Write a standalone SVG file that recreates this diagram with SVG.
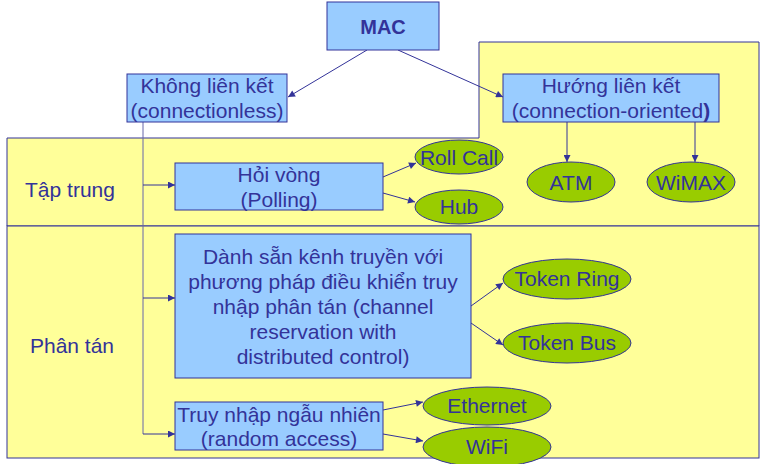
<svg xmlns="http://www.w3.org/2000/svg" width="762" height="464" viewBox="0 0 762 464">
<style>
.reg{fill:#FFFF99;stroke:#333399;stroke-width:1}
.box{fill:#99CCFF;stroke:#333399;stroke-width:1}
.ell{fill:#99CC00;stroke:#333399;stroke-width:1}
text{font-family:"Liberation Sans",Arial,sans-serif;font-size:21px;fill:#333399;text-anchor:middle}
.lbl{text-anchor:middle}
.con line,.con polyline{stroke:#333399;stroke-width:1;fill:none}
.con .trunk{stroke:#6666AA}
</style>
<defs>
<marker id="ah" viewBox="0 0 10 10" refX="10" refY="5" markerWidth="9" markerHeight="7" markerUnits="userSpaceOnUse" orient="auto">
<path d="M0,0 L10,5 L0,10 z" fill="#333399"/>
</marker>
</defs>
<g id="regions">
<polygon id="region-taptrung" class="reg" points="7,138 479,138 479,42 759,42 759,226 7,226"/>
<rect id="region-phantan" class="reg" x="7" y="226" width="752" height="232"/>
<text x="70" y="197">Tập trung</text>
<text x="72" y="353">Phân tán</text>
</g>
<g class="con" id="connectors">
<line x1="367" y1="50" x2="288" y2="97" marker-end="url(#ah)"/>
<line x1="398" y1="50" x2="503" y2="97" marker-end="url(#ah)"/>
<line class="trunk" x1="143" y1="122" x2="143" y2="434"/>
<line x1="143" y1="185" x2="175" y2="185" marker-end="url(#ah)"/>
<line x1="143" y1="298" x2="175" y2="298" marker-end="url(#ah)"/>
<line x1="143" y1="434" x2="175" y2="434" marker-end="url(#ah)"/>
<line x1="567" y1="122" x2="567" y2="162" marker-end="url(#ah)"/>
<line x1="695" y1="122" x2="695" y2="162" marker-end="url(#ah)"/>
<line x1="383" y1="177" x2="416" y2="163" marker-end="url(#ah)"/>
<line x1="383" y1="193" x2="415" y2="202" marker-end="url(#ah)"/>
<line x1="471" y1="306" x2="503" y2="283" marker-end="url(#ah)"/>
<line x1="471" y1="323" x2="503" y2="345" marker-end="url(#ah)"/>
<line x1="383" y1="410" x2="423" y2="402" marker-end="url(#ah)"/>
<line x1="383" y1="434" x2="423" y2="441" marker-end="url(#ah)"/>
</g>
<g id="mac">
<rect class="box" x="327" y="2" width="112" height="48"/>
<text x="383" y="34" style="font-weight:bold;font-size:20px">MAC</text>
</g>
<g id="khong-lien-ket">
<rect class="box" x="127" y="74" width="160" height="48"/>
<text x="207" y="93">Không liên kết</text>
<text x="207" y="118">(connectionless)</text>
</g>
<g id="huong-lien-ket">
<rect class="box" x="503" y="74" width="216" height="48"/>
<text x="611" y="93">Hướng liên kết</text>
<text x="611" y="118">(connection-oriented<tspan style="font-weight:bold">)</tspan></text>
</g>
<g id="hoi-vong">
<rect class="box" x="175" y="163" width="208" height="47"/>
<text x="279" y="182">Hỏi vòng</text>
<text x="279" y="207">(Polling)</text>
</g>
<g id="danh-san">
<rect class="box" x="175" y="234" width="296" height="144"/>
<text x="323" y="264">Dành sẵn kênh truyền với</text>
<text x="323" y="289">phương pháp điều khiển truy</text>
<text x="323" y="314">nhập phân tán (channel</text>
<text x="323" y="339">reservation with</text>
<text x="323" y="364">distributed control)</text>
</g>
<g id="truy-nhap">
<rect class="box" x="175" y="402" width="208" height="48"/>
<text x="279" y="422">Truy nhập ngẫu nhiên</text>
<text x="279" y="446">(random access)</text>
</g>
<g id="roll-call">
<ellipse class="ell" cx="459" cy="157" rx="44" ry="17"/>
<text x="459" y="165">Roll Call</text>
</g>
<g id="hub">
<ellipse class="ell" cx="459" cy="207" rx="44" ry="17"/>
<text x="459" y="214">Hub</text>
</g>
<g id="atm">
<ellipse class="ell" cx="571" cy="182" rx="44" ry="20"/>
<text x="571" y="190">ATM</text>
</g>
<g id="wimax">
<ellipse class="ell" cx="691" cy="182" rx="44" ry="20"/>
<text x="691" y="190">WiMAX</text>
</g>
<g id="token-ring">
<ellipse class="ell" cx="567" cy="279" rx="64" ry="20"/>
<text x="567" y="286">Token Ring</text>
</g>
<g id="token-bus">
<ellipse class="ell" cx="567" cy="343" rx="64" ry="20"/>
<text x="567" y="350">Token Bus</text>
</g>
<g id="ethernet">
<ellipse class="ell" cx="487" cy="406" rx="64" ry="19"/>
<text x="487" y="413">Ethernet</text>
</g>
<g id="wifi">
<ellipse class="ell" cx="487" cy="447" rx="64" ry="20"/>
<text x="487" y="454">WiFi</text>
</g>
</svg>
